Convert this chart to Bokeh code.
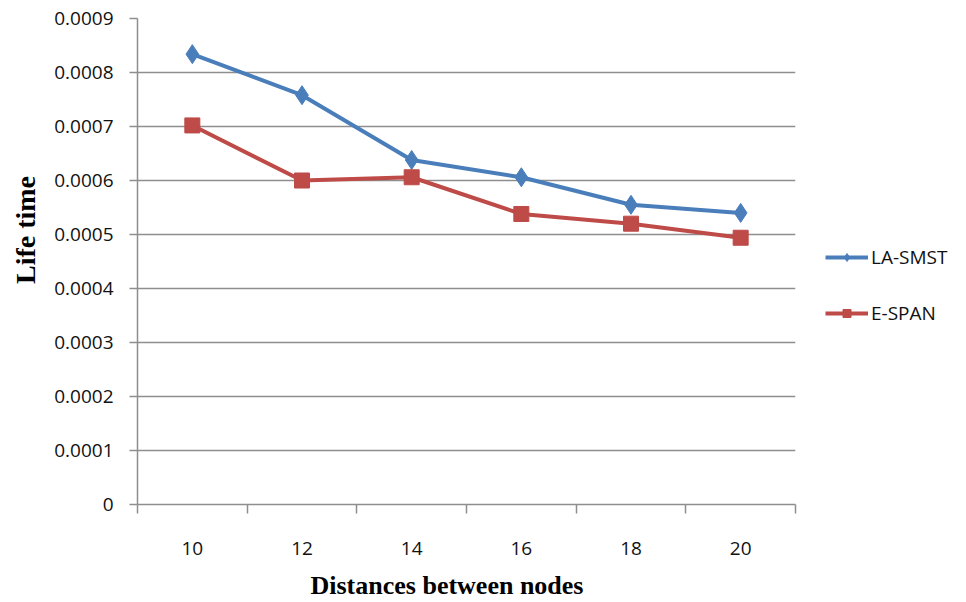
from bokeh.plotting import figure
from bokeh.layouts import row
from bokeh.models import FixedTicker, Legend, LegendItem, Range1d
from bokeh.embed import file_html
from bokeh.resources import INLINE

# ---- data ----
distances = ["10", "12", "14", "16", "18", "20"]
la_smst = [0.000834, 0.000758, 0.000638, 0.000606, 0.000555, 0.000540]
e_span = [0.000702, 0.000600, 0.000606, 0.000538, 0.000520, 0.000494]
y_ticks = [0.0, 0.0001, 0.0002, 0.0003, 0.0004, 0.0005, 0.0006, 0.0007, 0.0008, 0.0009]
y_tick_labels = ["0", "0.0001", "0.0002", "0.0003", "0.0004", "0.0005",
                 "0.0006", "0.0007", "0.0008", "0.0009"]
series_names = ["LA-SMST", "E-SPAN"]

# category centres and boundaries on a numeric axis
centers = [i + 0.5 for i in range(len(distances))]
bounds = [float(i) for i in range(len(distances) + 1)]

BLUE = "#4A7EBB"
RED = "#BE4B48"
GRID = "#8e8e8e"
TICK_FONT = "Open Sans"
TITLE_FONT = "Liberation Serif"
NBSP = "\u00a0"

p = figure(width=800, height=602, output_backend="svg", toolbar_location=None,
           x_range=Range1d(0, len(distances)), y_range=Range1d(0, 0.0009),
           min_border_left=137, min_border_right=5, min_border_top=18,
           min_border_bottom=97)
p.outline_line_color = None
p.background_fill_color = "white"
p.border_fill_color = "white"

# grid
p.xgrid.visible = False
p.ygrid.ticker = FixedTicker(ticks=y_ticks)
p.ygrid.grid_line_color = GRID
p.ygrid.grid_line_width = 1.5

# y axis
ya = p.yaxis[0]
ya.ticker = FixedTicker(ticks=y_ticks)
ya.major_label_overrides = {t: l for t, l in zip(y_ticks, y_tick_labels)}
ya.axis_line_color = GRID
ya.axis_line_width = 1.5
ya.major_tick_line_color = GRID
ya.major_tick_line_width = 1.5
ya.major_tick_in = 0
ya.major_tick_out = 8
ya.minor_tick_line_color = None
ya.major_label_standoff = 16
ya.major_label_text_font = TICK_FONT
ya.major_label_text_font_size = "19px"
ya.major_label_text_color = "#111111"
ya.axis_label = NBSP * 9 + "Life time"
ya.axis_label_text_font = TITLE_FONT
ya.axis_label_text_font_style = "bold"
ya.axis_label_text_font_size = "28px"
ya.axis_label_text_color = "black"
ya.axis_label_standoff = 10

# x axis: labels at centres, tick marks at category boundaries
xa = p.xaxis[0]
xa.ticker = FixedTicker(ticks=centers, minor_ticks=bounds)
xa.major_label_overrides = {c: d for c, d in zip(centers, distances)}
xa.axis_line_color = GRID
xa.axis_line_width = 1.5
xa.major_tick_line_color = None
xa.major_tick_in = 0
xa.major_tick_out = 0
xa.minor_tick_line_color = GRID
xa.minor_tick_line_width = 1.5
xa.minor_tick_in = 0
xa.minor_tick_out = 9
xa.major_label_standoff = 28
xa.major_label_text_font = TICK_FONT
xa.major_label_text_font_size = "19px"
xa.major_label_text_color = "#111111"
xa.axis_label = "Distances between nodes" + NBSP * 6
xa.axis_label_text_font = TITLE_FONT
xa.axis_label_text_font_style = "bold"
xa.axis_label_text_font_size = "26px"
xa.axis_label_text_color = "black"
xa.axis_label_standoff = 13

# series
p.line(centers, la_smst, line_color=BLUE, line_width=4)
p.scatter(centers, la_smst, marker="diamond", size=19, fill_color=BLUE, line_color=BLUE)
p.line(centers, e_span, line_color=RED, line_width=4)
p.scatter(centers, e_span, marker="square", size=15, fill_color=RED, line_color=RED)

# legend panel on the right: its own small figure whose ranges keep the
# proxy series out of view, so only the legend shows
q = figure(width=166, height=602, output_backend="svg", toolbar_location=None,
           x_range=Range1d(-20, -10), y_range=Range1d(-20, -10),
           x_axis_location=None, y_axis_location=None,
           min_border_left=0, min_border_right=0, min_border_top=0, min_border_bottom=0)
q.grid.visible = False
q.outline_line_color = None
q.background_fill_color = "white"
q.border_fill_color = "white"
ql1 = q.line(centers, la_smst, line_color=BLUE, line_width=4)
qs1 = q.scatter(centers, la_smst, marker="diamond", size=19, fill_color=BLUE, line_color=BLUE)
ql2 = q.line(centers, e_span, line_color=RED, line_width=4)
qs2 = q.scatter(centers, e_span, marker="square", size=15, fill_color=RED, line_color=RED)

legend = Legend(items=[LegendItem(label=series_names[0], renderers=[ql1, qs1]),
                       LegendItem(label=series_names[1], renderers=[ql2, qs2])],
                location=(25, 178), orientation="vertical")
legend.border_line_color = None
legend.background_fill_alpha = 0
legend.padding = 0
legend.margin = 0
legend.spacing = 30
legend.glyph_width = 43
legend.glyph_height = 20
legend.label_height = 20
legend.label_standoff = 3
legend.label_text_font = TICK_FONT
legend.label_text_font_size = "19px"
legend.label_text_color = "#111111"
q.add_layout(legend)

layout = row(p, q)
open("out.html", "w").write(file_html(layout, INLINE))
